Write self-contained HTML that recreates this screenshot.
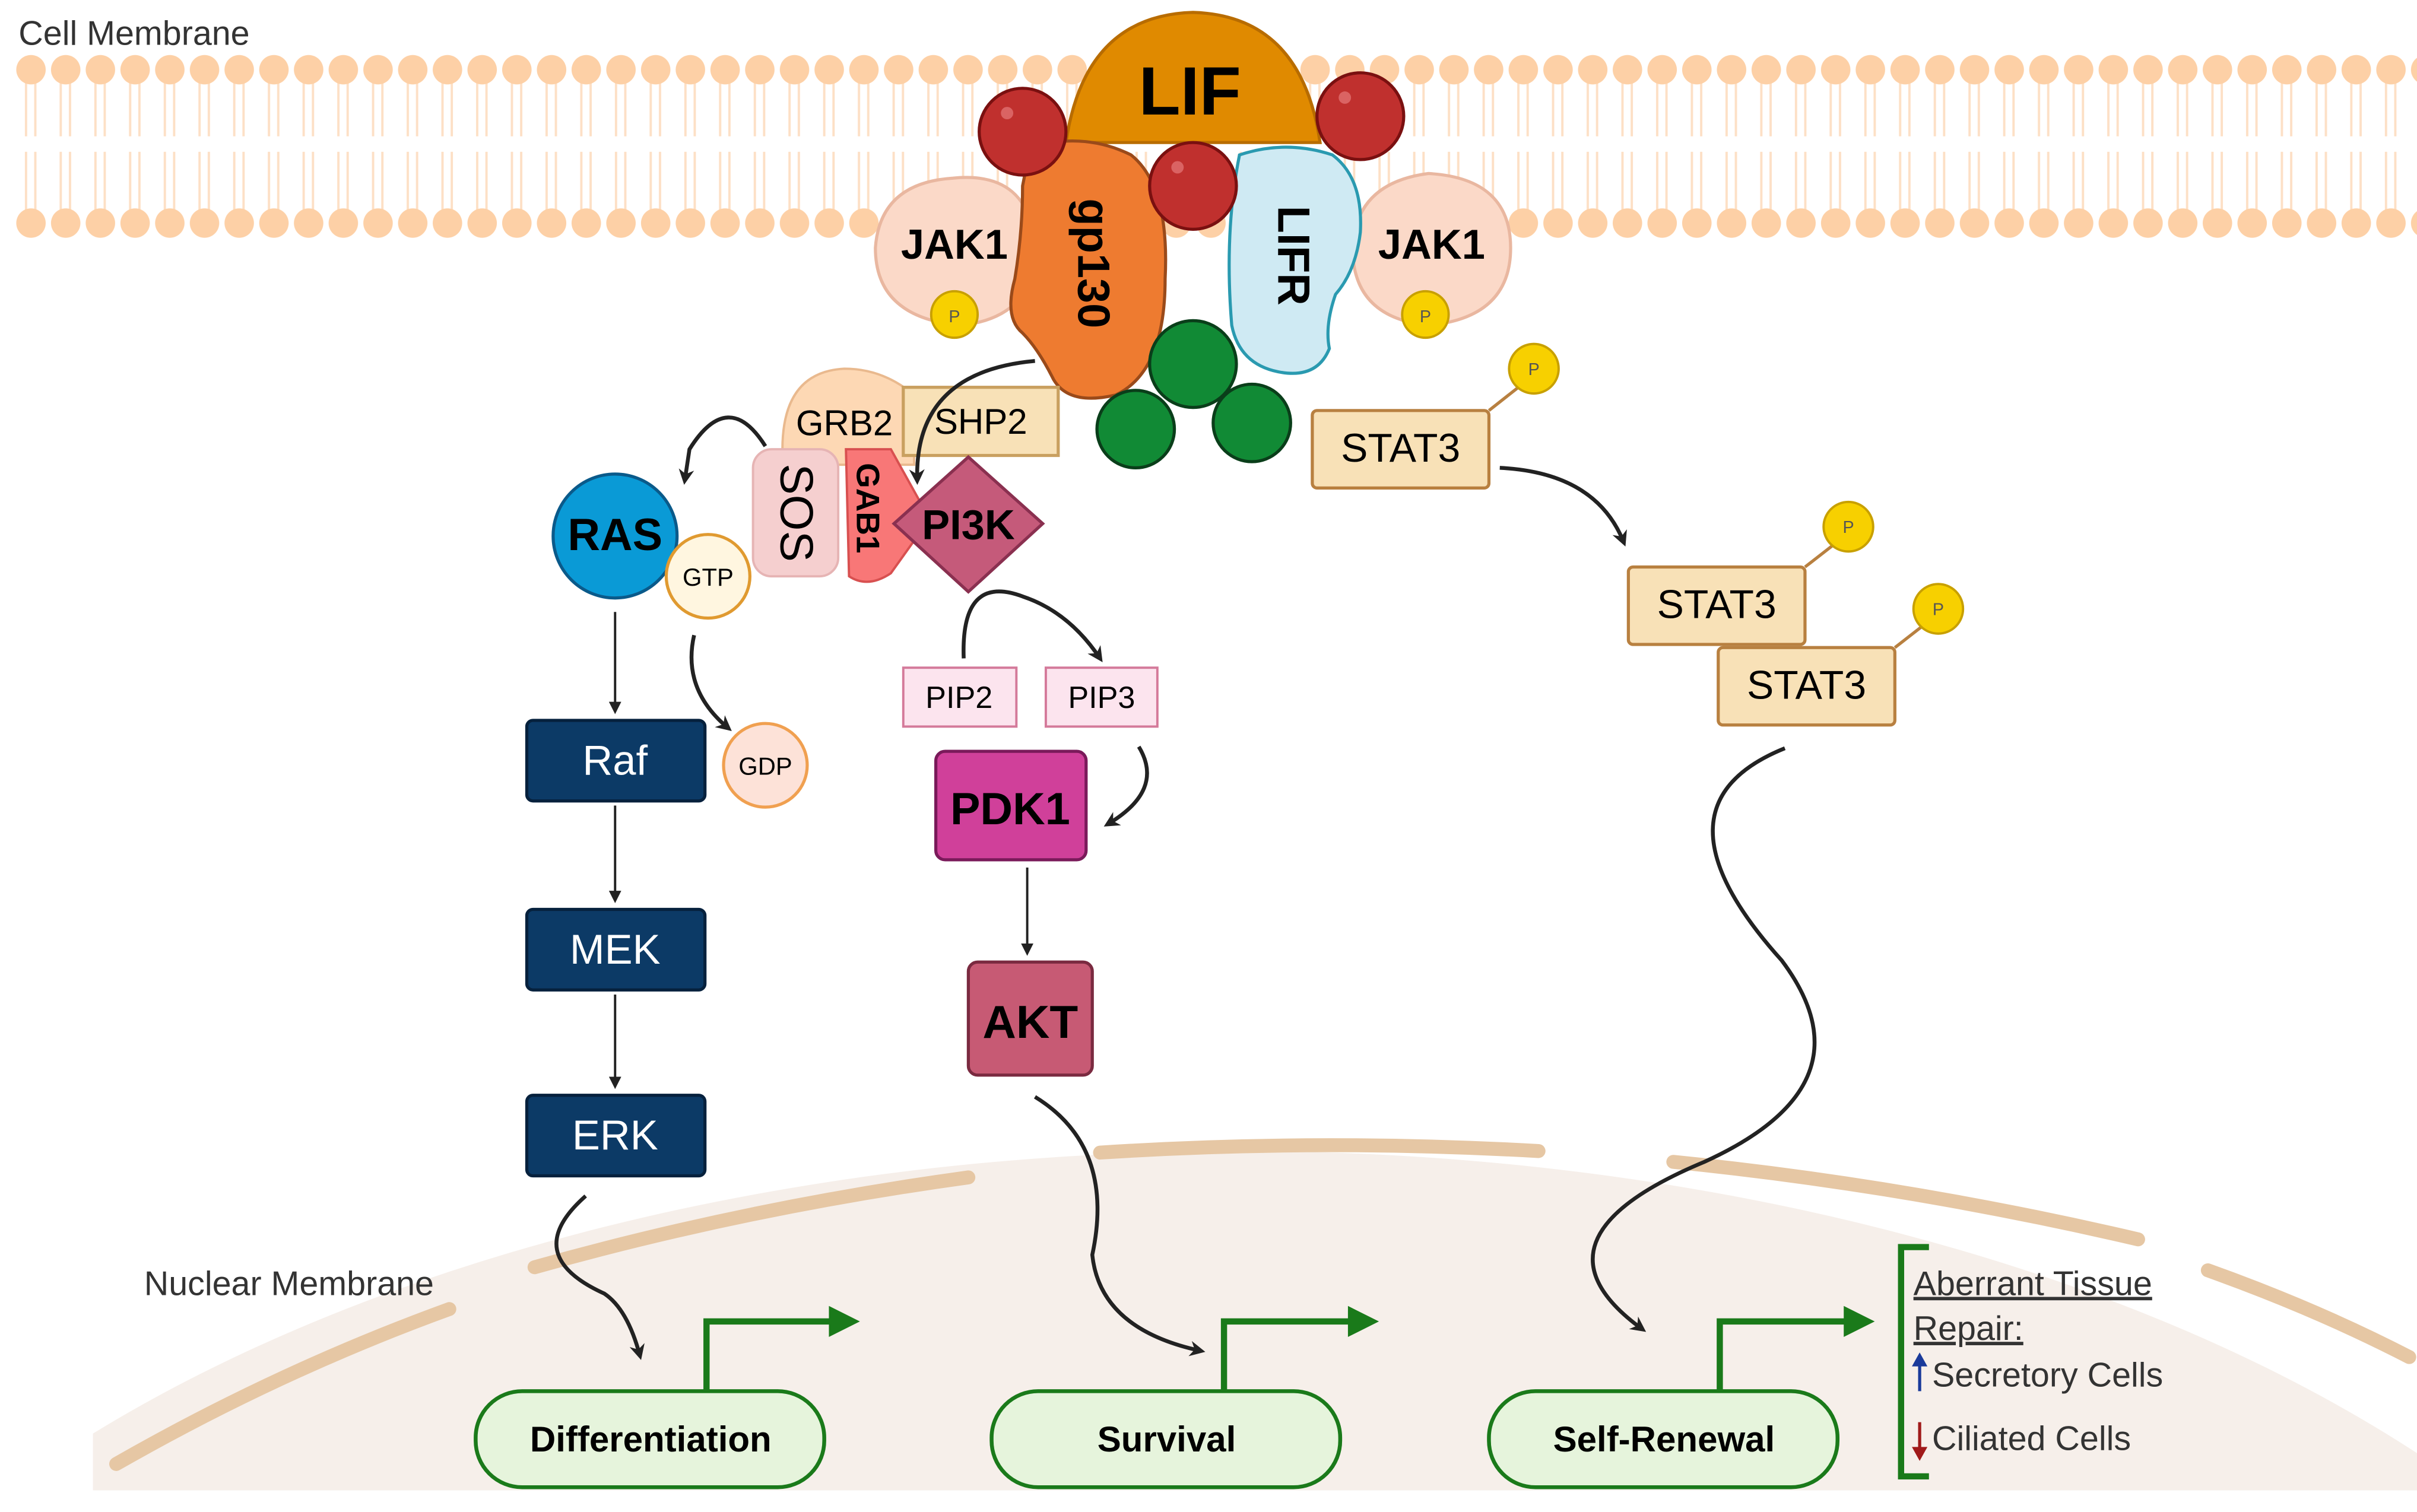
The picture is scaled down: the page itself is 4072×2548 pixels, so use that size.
<!DOCTYPE html>
<html><head><meta charset="utf-8"><style>html,body{margin:0;padding:0;background:#fff;overflow:hidden;width:4072px;height:2548px}svg{display:block}</style></head><body>
<svg width="4072" height="2548" viewBox="0 0 1560 976" preserveAspectRatio="none" xmlns="http://www.w3.org/2000/svg" font-family="Liberation Sans, sans-serif">
<defs>
<marker id="ah" markerWidth="10" markerHeight="10" refX="7" refY="5" orient="auto" markerUnits="userSpaceOnUse"><path d="M0,0 L10,5 L0,10 L3,5z" fill="#222"/></marker>
<marker id="as" markerWidth="8" markerHeight="8" refX="6" refY="4" orient="auto" markerUnits="userSpaceOnUse"><path d="M0,0 L8,4 L0,8z" fill="#222"/></marker>
<clipPath id="nc"><rect x="60" y="0" width="1500" height="962"/></clipPath>
<pattern id="lip" x="8.8" y="0" width="22.4" height="160" patternUnits="userSpaceOnUse">
<g stroke="#fde0c6" stroke-width="1.5">
<line x1="8" y1="52" x2="8" y2="88"/><line x1="14" y1="52" x2="14" y2="88"/>
<line x1="8" y1="98" x2="8" y2="136"/><line x1="14" y1="98" x2="14" y2="136"/>
</g>
<circle cx="11.2" cy="45" r="9.5" fill="#fdd0a6"/>
<circle cx="11.2" cy="144" r="9.5" fill="#fdd0a6"/>
</pattern>
</defs>
<!-- nucleus -->
<g clip-path="url(#nc)">
<ellipse cx="800" cy="1300" rx="1000" ry="557" fill="#f6efea"/>
<g fill="none" stroke="#e6c7a4" stroke-width="9" stroke-linecap="round">
<path d="M75,945 Q180,885 290,845"/>
<path d="M345,818 Q480,780 625,760"/>
<path d="M710,744 Q850,735 993,743"/>
<path d="M1080,750 Q1230,765 1380,800"/>
<path d="M1425,820 Q1495,845 1555,876"/>
</g>
</g>
<rect x="10" y="30" width="1550" height="130" fill="url(#lip)"/>
<text x="12" y="29" font-size="22" fill="#333">Cell Membrane</text>
<text x="93" y="836" font-size="22" fill="#333">Nuclear Membrane</text>
<!-- LIF -->
<path d="M688,92 Q700,10 770,8 Q840,10 852,92 Z" fill="#e08a00" stroke="#b86c00" stroke-width="2"/>
<text x="768" y="74" font-size="44" font-weight="bold" text-anchor="middle">LIF</text>
<!-- JAK1 left -->
<path d="M615,115 Q665,110 668,160 Q668,205 620,210 Q565,205 565,160 Q568,118 615,115Z" fill="#fbd9c8" stroke="#e9b7a0" stroke-width="2"/>
<text x="616" y="167" font-size="27" font-weight="bold" text-anchor="middle">JAK1</text>
<circle cx="616" cy="203" r="15" fill="#f7d000" stroke="#c8a000" stroke-width="1.5"/><text x="616" y="208" font-size="11" text-anchor="middle" fill="#555">P</text>
<!-- JAK1 right -->
<path d="M922,112 Q975,115 975,160 Q975,205 922,210 Q873,205 873,160 Q875,118 922,112Z" fill="#fbd9c8" stroke="#e9b7a0" stroke-width="2"/>
<text x="924" y="167" font-size="27" font-weight="bold" text-anchor="middle">JAK1</text>
<circle cx="920" cy="203" r="15" fill="#f7d000" stroke="#c8a000" stroke-width="1.5"/><text x="920" y="208" font-size="11" text-anchor="middle" fill="#555">P</text>
<!-- gp130 -->
<path d="M665,95 Q700,85 730,100 Q755,120 752,180 Q752,240 720,255 Q690,262 680,245 Q670,225 660,215 Q648,205 655,180 Q660,150 660,120Z" fill="#ee7b30" stroke="#9a4a1a" stroke-width="2"/>
<text transform="translate(706,170) rotate(90)" font-size="29" font-weight="bold" text-anchor="middle" dy="10">gp130</text>
<!-- LIFR -->
<path d="M800,100 Q830,90 860,100 Q880,115 878,150 Q875,175 862,190 Q855,210 858,225 Q850,245 825,240 Q800,235 795,210 Q790,150 800,100Z" fill="#cfeaf3" stroke="#2a9ab0" stroke-width="2"/>
<text transform="translate(835,165) rotate(90)" font-size="29" font-weight="bold" text-anchor="middle" dy="10">LIFR</text>
<!-- red balls -->
<g stroke="#7a1010" stroke-width="2" fill="#c0302e">
<circle cx="660" cy="85" r="28"/><circle cx="878" cy="75" r="28"/><circle cx="770" cy="120" r="28"/>
</g>
<g fill="#e07070" opacity="0.8"><circle cx="650" cy="73" r="4"/><circle cx="868" cy="63" r="4"/><circle cx="760" cy="108" r="4"/></g>
<!-- green balls -->
<g stroke="#0a3e1a" stroke-width="2" fill="#118a35">
<circle cx="770" cy="235" r="28"/><circle cx="733" cy="277" r="25"/><circle cx="808" cy="273" r="25"/>
</g>
<!-- GRB2 / SHP2 -->
<path d="M505,290 Q505,240 545,238 Q570,238 590,255 L590,300 L505,300Z" fill="#fdd8b4" stroke="#e9b98e" stroke-width="1.5"/>
<text x="545" y="281" font-size="23" text-anchor="middle">GRB2</text>
<rect x="583" y="250" width="100" height="44" fill="#f8e1b7" stroke="#c9a060" stroke-width="2"/>
<text x="633" y="280" font-size="23" text-anchor="middle">SHP2</text>
<!-- SOS -->
<rect x="486" y="290" width="55" height="82" rx="12" fill="#f5cfcf" stroke="#e6b4b4" stroke-width="1.5"/>
<text transform="translate(514,331) rotate(90)" font-size="30" text-anchor="middle" dy="10">SOS</text>
<!-- GAB1 -->
<path d="M546,290 L575,290 L600,335 L575,370 Q560,380 548,372Z" fill="#f87777" stroke="#d85050" stroke-width="1.5"/>
<text transform="translate(560,328) rotate(90)" font-size="21" font-weight="bold" text-anchor="middle" dy="7">GAB1</text>
<!-- PI3K -->
<path d="M625,295 L673,338 L625,382 L577,338Z" fill="#c55a7a" stroke="#8a3050" stroke-width="2"/>
<text x="625" y="348" font-size="27" font-weight="bold" text-anchor="middle">PI3K</text>
<!-- RAS -->
<circle cx="397" cy="346" r="40" fill="#0a9ad6" stroke="#0a5a8a" stroke-width="2"/>
<text x="397" y="355" font-size="29" font-weight="bold" text-anchor="middle">RAS</text>
<circle cx="457" cy="372" r="27" fill="#fff6e0" stroke="#e09a30" stroke-width="2"/>
<text x="457" y="378" font-size="16" text-anchor="middle">GTP</text>
<circle cx="494" cy="494" r="27" fill="#fde2d8" stroke="#f0a050" stroke-width="2"/>
<text x="494" y="500" font-size="16" text-anchor="middle">GDP</text>
<!-- MAPK boxes -->
<g fill="#0c3a66" stroke="#06213d" stroke-width="2">
<rect x="340" y="465" width="115" height="52" rx="4"/><rect x="340" y="587" width="115" height="52" rx="4"/><rect x="340" y="707" width="115" height="52" rx="4"/>
</g>
<g fill="#fff" font-size="27" text-anchor="middle"><text x="397" y="500">Raf</text><text x="397" y="622">MEK</text><text x="397" y="742">ERK</text></g>
<!-- PIP -->
<rect x="583" y="431" width="73" height="38" fill="#fce4ee" stroke="#d47a9a" stroke-width="1.5"/><text x="619" y="457" font-size="20" text-anchor="middle">PIP2</text>
<rect x="675" y="431" width="72" height="38" fill="#fce4ee" stroke="#d47a9a" stroke-width="1.5"/><text x="711" y="457" font-size="20" text-anchor="middle">PIP3</text>
<rect x="604" y="485" width="97" height="70" rx="6" fill="#d0409a" stroke="#7a1a5a" stroke-width="2"/><text x="652" y="532" font-size="29" font-weight="bold" text-anchor="middle">PDK1</text>
<rect x="625" y="621" width="80" height="73" rx="6" fill="#c75a74" stroke="#7a2a40" stroke-width="2"/><text x="665" y="670" font-size="30" font-weight="bold" text-anchor="middle">AKT</text>
<!-- STAT3 -->
<g fill="#f8e1b7" stroke="#b88040" stroke-width="2">
<rect x="847" y="265" width="114" height="50" rx="3"/><rect x="1051" y="366" width="114" height="50" rx="3"/><rect x="1109" y="418" width="114" height="50" rx="3"/>
</g>
<g font-size="26" text-anchor="middle"><text x="904" y="298">STAT3</text><text x="1108" y="399">STAT3</text><text x="1166" y="451">STAT3</text></g>
<g stroke="#b88040" stroke-width="2"><line x1="961" y1="265" x2="980" y2="250"/><line x1="1165" y1="366" x2="1183" y2="352"/><line x1="1223" y1="418" x2="1241" y2="404"/></g>
<g fill="#f7d000" stroke="#c8a000" stroke-width="1.5"><circle cx="990" cy="238" r="16"/><circle cx="1193" cy="340" r="16"/><circle cx="1251" cy="393" r="16"/></g>
<g font-size="11" text-anchor="middle" fill="#555"><text x="990" y="242">P</text><text x="1193" y="344">P</text><text x="1251" y="397">P</text></g>
<!-- arrows -->
<g fill="none" stroke="#222" stroke-width="2.5" marker-end="url(#ah)">
<path d="M494,288 Q470,250 445,290 L442,310"/>
<path d="M668,233 Q590,240 592,310"/>
<path d="M622,425 Q620,370 660,385 Q690,395 710,425"/>
<path d="M735,482 Q752,510 715,532"/>
<path d="M448,410 Q440,445 470,470"/>
<path d="M968,302 Q1030,305 1048,350"/>
<path d="M1152,483 Q1060,520 1150,620 Q1210,700 1100,750 Q980,800 1060,858"/>
<path d="M668,708 Q720,740 705,810 Q710,858 775,872"/>
<path d="M378,772 Q335,810 390,835 Q405,845 413,875"/>
</g>
<g stroke="#222" stroke-width="1.5" marker-end="url(#as)">
<line x1="397" y1="395" x2="397" y2="459"/><line x1="397" y1="520" x2="397" y2="581"/><line x1="397" y1="642" x2="397" y2="701"/><line x1="663" y1="560" x2="663" y2="615"/>
</g>
<!-- gene arrows -->
<g fill="none" stroke="#1a7a1a" stroke-width="4">
<path d="M456,900 L456,853 L540,853"/><path d="M790,900 L790,853 L875,853"/><path d="M1110,900 L1110,853 L1195,853"/>
</g>
<g fill="#1a7a1a"><path d="M535,843 L555,853 L535,863z"/><path d="M870,843 L890,853 L870,863z"/><path d="M1190,843 L1210,853 L1190,863z"/></g>
<g fill="#e6f4dc" stroke="#1a7a1a" stroke-width="2.5">
<rect x="307" y="898" width="225" height="62" rx="30"/><rect x="640" y="898" width="225" height="62" rx="30"/><rect x="961" y="898" width="225" height="62" rx="30"/>
</g>
<g font-size="23" font-weight="bold" text-anchor="middle"><text x="420" y="937">Differentiation</text><text x="753" y="937">Survival</text><text x="1074" y="937">Self-Renewal</text></g>
<path d="M1245,805 L1227,805 L1227,953 L1245,953" fill="none" stroke="#1a7a1a" stroke-width="4"/>
<g font-size="22" fill="#333">
<text x="1235" y="836" text-decoration="underline">Aberrant Tissue </text>
<text x="1235" y="865" text-decoration="underline">Repair:</text>
<text x="1247" y="895">Secretory Cells</text>
<text x="1247" y="936">Ciliated Cells</text>
</g>
<line x1="1239" y1="898" x2="1239" y2="878" stroke="#1a3a9a" stroke-width="2"/><path d="M1234,882 L1239,873 L1244,882z" fill="#1a3a9a"/>
<line x1="1239" y1="918" x2="1239" y2="938" stroke="#a01a1a" stroke-width="2"/><path d="M1234,934 L1239,943 L1244,934z" fill="#a01a1a"/>
</svg>
</body></html>
